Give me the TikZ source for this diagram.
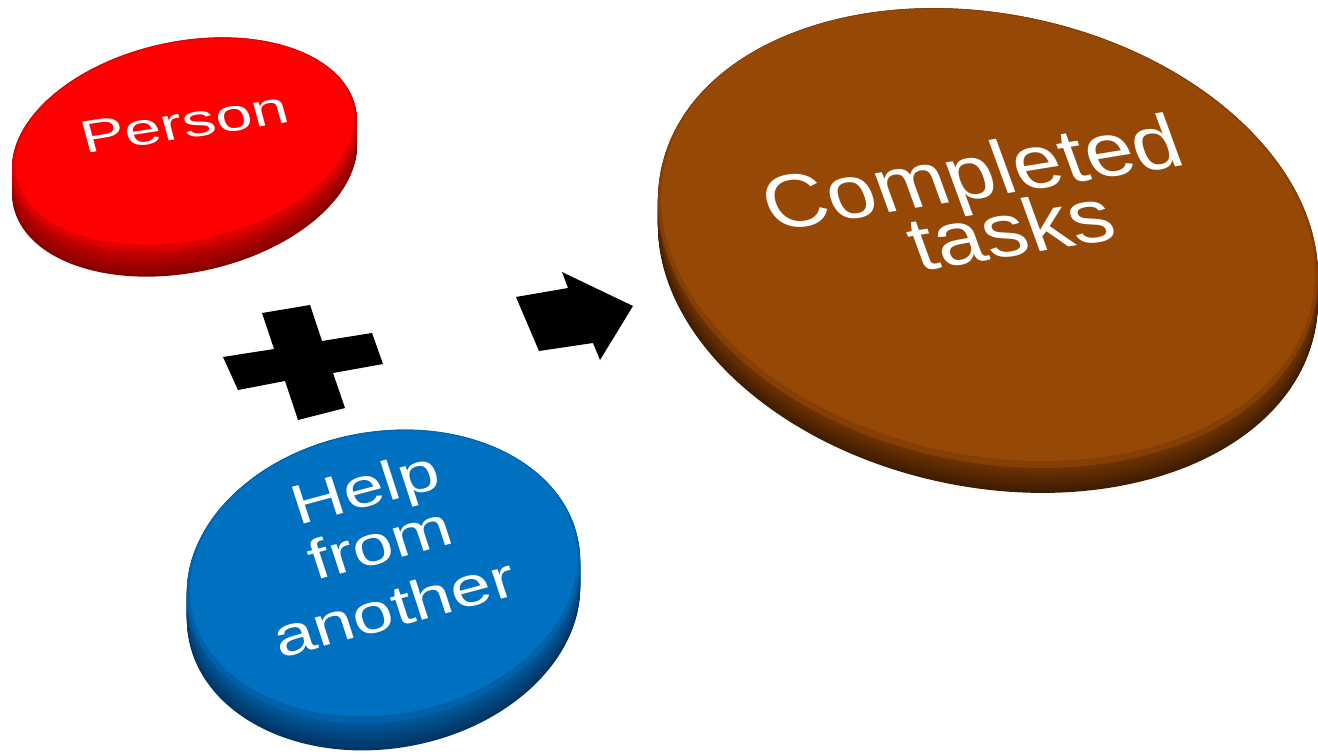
\documentclass[tikz,border=0pt]{standalone}
\usepackage{fontspec}
\newfontfamily\labelfont{Liberation Sans}
\definecolor{redTop}{HTML}{FF0000}
\definecolor{redRim}{HTML}{DA0000}
\definecolor{redSideA}{HTML}{C80000}
\definecolor{redSideB}{HTML}{840000}
\definecolor{blueTop}{HTML}{0070C0}
\definecolor{blueRim}{HTML}{0060A8}
\definecolor{blueSideA}{HTML}{00599C}
\definecolor{blueSideB}{HTML}{003462}
\definecolor{brownTop}{HTML}{964806}
\definecolor{brownRim}{HTML}{853F05}
\definecolor{brownSideA}{HTML}{6E3303}
\definecolor{brownSideB}{HTML}{3E1C00}
\tikzset{
  discfont/.style={font=\labelfont\fontsize{50}{60}\selectfont, inner sep=0pt, anchor=base, transform shape, text=white},
  shapefill/.style={fill=black}
}
% #1 name, #2 cx, #3 cy, #4 a, #5 b, #6 angle, #7 thickness, #8 colour prefix
\newcommand{\makedisc}[8]{%
  \foreach \k [evaluate=\k as \oo using int(#7-\k), evaluate=\k as \pp using 100*(#7-\k)/#7] in {0,...,#7}{%
    \fill[#8SideB!\pp!#8SideA, rotate around={#6:(#2,#3+\oo)}] (#2,#3+\oo) ellipse [x radius=#4, y radius=#5];
  }
  \fill[#8Rim, rotate around={#6:(#2,#3)}] (#2,#3) ellipse [x radius=#4, y radius=#5];
  \fill[#8Top, rotate around={#6:(#2,#3-3)}] (#2,#3-3) ellipse [x radius={#4-3}, y radius={#5-4}];
  \coordinate (#1) at (#2,#3);
}
% #1 name, #2 x, #3 y (baseline middle), #4-#7 matrix, #8 text
\newcommand{\disclabel}[8]{%
  \begin{scope}[shift={(#2,#3)}, cm={#4,#5,#6,#7,(0,0)}]
    \node[discfont] (#1) at (0,0) {#8};
  \end{scope}
}
\begin{document}
\begin{tikzpicture}[x=1pt, y=-1pt]
\useasboundingbox (0,0) rectangle (1318,755);
\fill[white] (0,0) rectangle (1318,755);

% discs
\makedisc{person}{184.5}{144.5}{175}{103}{12}{25}{red}
\makedisc{help}{383.5}{576.5}{198}{145}{10}{27}{blue}
\makedisc{done}{988}{238}{334}{224}{-12}{25}{brown}

% plus sign
\fill[shapefill] (262,313) -- (310,305) -- (322,341) -- (372,333) -- (383,364) -- (333,373)
  -- (345,408) -- (298,420) -- (285,381) -- (238,390) -- (223,357) -- (274,349) -- cycle;

% arrow
\fill[shapefill] (516,297) -- (568,288) -- (562,272) -- (633,306) -- (600,360) -- (593,343) -- (539,351) -- cycle;

% labels
\disclabel{personlbl}{188.5}{138}{1.3048}{0.1997}{-0.2381}{0.8887}{Person}
\disclabel{help1}{371}{506}{1.4103}{0.3779}{-0.3461}{1.0652}{Help}
\disclabel{help2}{386}{562}{1.4103}{0.3779}{-0.3461}{1.0652}{from}
\disclabel{help3}{400}{626}{1.4103}{0.3779}{-0.3461}{1.0652}{another}
\disclabel{done1}{981}{198}{1.7176}{0.2782}{-0.5335}{1.4659}{Completed}
\disclabel{done2}{1020}{255}{1.7176}{0.2782}{-0.5335}{1.4659}{tasks}
\end{tikzpicture}
\end{document}
